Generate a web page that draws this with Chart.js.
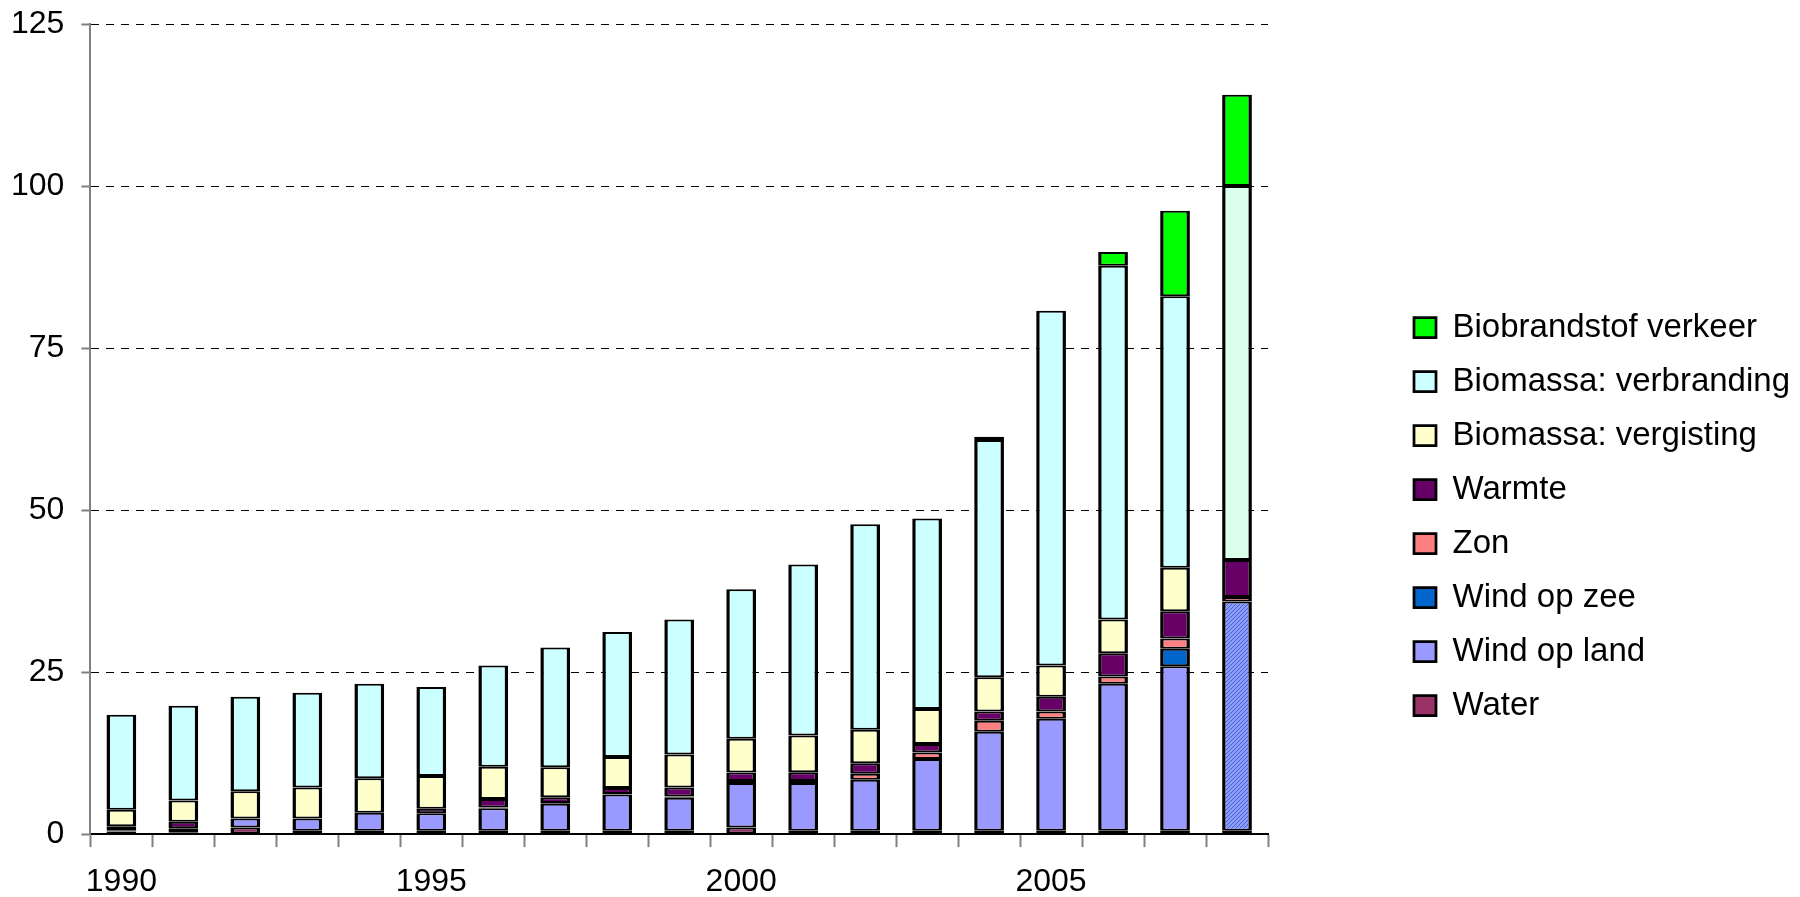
<!DOCTYPE html>
<html>
<head>
<meta charset="utf-8">
<script src="https://cdn.jsdelivr.net/npm/chart.js@4"></script>
<style>
  html, body { margin: 0; padding: 0; background: #fff; }
  #wrap { width: 1800px; height: 897px; position: relative; }
</style>
</head>
<body>
<div id="wrap"><canvas id="chart"></canvas></div>
<script>
/* ---- Data ---- */
const years = [1990, 1991, 1992, 1993, 1994, 1995, 1996, 1997, 1998, 1999,
  2000, 2001, 2002, 2003, 2004, 2005, 2006, 2007, 2008];
const yTicks = [0, 25, 50, 75, 100, 125];

const water = [0.4, 0.3, 1.0, 0.5, 0.5, 0.5, 0.5, 0.5, 0.5, 0.5, 1.0, 0.5, 0.5, 0.5, 0.5, 0.5, 0.5, 0.5, 0.5];
const windLand = [0.2, 0.6, 1.4, 1.9, 2.8, 2.7, 3.5, 4.2, 5.6, 5.1, 6.9, 7.4, 7.9, 11.1, 15.3, 17.3, 22.7, 25.4, 35.4];
const windZee = [0, 0, 0, 0, 0, 0, 0, 0, 0, 0, 0, 0, 0, 0, 0, 0, 0, 2.7, 0];
const zon = [0, 0, 0, 0, 0, 0, 0.1, 0.1, 0.1, 0.2, 0.3, 0.3, 0.9, 1.0, 1.7, 1.1, 1.1, 1.6, 0.7];
const warmte = [0.6, 1.0, 0, 0, 0, 0.7, 1.3, 0.9, 0.9, 1.4, 1.3, 1.35, 1.65, 1.3, 1.4, 2.3, 3.6, 4.2, 5.7];
const vergisting = [2.55, 3.3, 4.2, 4.8, 5.3, 5.05, 5.0, 4.6, 4.8, 5.1, 5.2, 5.65, 5.15, 5.4, 5.3, 4.8, 5.2, 6.7, 0];
const verbranding = [14.65, 14.6, 14.6, 14.6, 14.6, 13.75, 15.6, 18.5, 19.3, 20.8, 23.1, 26.4, 31.7, 29.4, 36.6, 54.75, 54.6, 41.9, 57.7];
const biobrandstof = [0, 0, 0, 0, 0, 0, 0, 0, 0, 0, 0, 0, 0, 0, 0.5, 0, 2.1, 13.2, 14.1];

/* ---- Hatched fill for the last (estimated) year ---- */
function hatch(base, line) {
  const c = document.createElement("canvas");
  c.width = 4;
  c.height = 4;
  const g = c.getContext("2d");
  g.fillStyle = base;
  g.fillRect(0, 0, 4, 4);
  g.strokeStyle = line;
  g.lineWidth = 1;
  g.beginPath();
  g.moveTo(0, 4); g.lineTo(4, 0);
  g.moveTo(-1, 1); g.lineTo(1, -1);
  g.moveTo(3, 5); g.lineTo(5, 3);
  g.stroke();
  return g.createPattern(c, "repeat");
}

// last bar uses a hatch, the others the plain colour
function fills(color, pattern) {
  return years.map((y, i) => (pattern && i === years.length - 1 ? pattern : color));
}

const series = [
  { label: "Water", data: water, color: "#993366" },
  { label: "Wind op land", data: windLand, color: "#9999FF", pattern: hatch("#8f9cf8", "#3f66d8") },
  { label: "Wind op zee", data: windZee, color: "#0066CC" },
  { label: "Zon", data: zon, color: "#FF8080" },
  { label: "Warmte", data: warmte, color: "#660066" },
  { label: "Biomassa: vergisting", data: vergisting, color: "#FFFFCC" },
  { label: "Biomassa: verbranding", data: verbranding, color: "#CCFFFF", pattern: hatch("#d4fff6", "#f4ffcc") },
  { label: "Biobrandstof verkeer", data: biobrandstof, color: "#00FF00" },
];

/* ---- Legend placement (right-hand block) ---- */
const LEGEND_X = 1393;
const LEGEND_Y = 290;

const legendPlacer = {
  id: "legendPlacer",
  afterInit(chart) {
    const legend = chart.legend;
    const fit = legend.fit;
    legend.fit = function () {
      fit.call(this);
      this.width = 532; // leaves the plot area ending near x=1268
    };
  },
  afterLayout(chart) {
    const legend = chart.legend;
    legend.left = LEGEND_X;
    legend.right = 1800;
    legend.top = LEGEND_Y;
    legend.bottom = LEGEND_Y + legend.height;
  },
};

Chart.defaults.font.family = "'Liberation Sans', Arial, sans-serif";
Chart.defaults.color = "#000";

new Chart(document.getElementById("chart"), {
  type: "bar",
  data: {
    labels: years,
    datasets: series.map((s) => ({
      label: s.label,
      data: s.data,
      backgroundColor: fills(s.color, s.pattern),
      borderColor: "#000",
      borderWidth: { top: 2, bottom: 2, left: 3.5, right: 3.5 },
      borderSkipped: false,
      barPercentage: 0.48,
      categoryPercentage: 1,
    })),
  },
  options: {
    responsive: true,
    maintainAspectRatio: false,
    animation: false,
    layout: { padding: { top: 24, left: -6, right: 0, bottom: -20.5 } },
    plugins: {
      tooltip: { enabled: false },
      legend: {
        position: "right",
        align: "start",
        reverse: true,
        labels: {
          boxWidth: 22,
          boxHeight: 20,
          padding: 21,
          font: { size: 33 },
          color: "#000",
        },
      },
    },
    scales: {
      x: {
        stacked: true,
        offset: true,
        grid: {
          offset: true,
          drawOnChartArea: false,
          tickLength: 13,
          tickColor: "#808080",
          tickWidth: 2,
        },
        border: { color: "#000", width: 2 },
        ticks: {
          autoSkip: false,
          maxRotation: 0,
          padding: 16,
          font: { size: 32 },
          callback: (v, i) => (years[i] % 5 === 0 ? String(years[i]) : ""),
        },
      },
      y: {
        stacked: true,
        min: yTicks[0],
        max: yTicks[yTicks.length - 1],
        afterBuildTicks: (axis) => {
          axis.ticks = yTicks.map((v) => ({ value: v }));
        },
        grid: {
          color: "#000",
          lineWidth: 1,
          tickLength: 9,
          tickColor: "#808080",
          tickWidth: 2,
          tickBorderDash: [],
        },
        border: { color: "#808080", width: 2, dash: [8, 7] },
        ticks: {
          padding: 17,
          font: { size: 32, lineHeight: 0.42 },
        },
      },
    },
  },
  plugins: [legendPlacer],
});
</script>
</body>
</html>
